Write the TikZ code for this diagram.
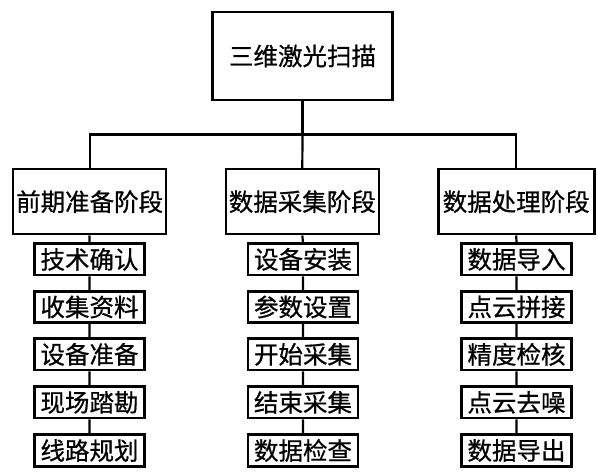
\documentclass[tikz,border=0pt]{standalone}
\usepackage{fontspec}
\newfontfamily\cjk[FakeBold=0.7]{Noto Sans CJK SC}
\begin{document}
\begin{tikzpicture}[x=1pt,y=-1pt,
  box/.style={draw,line width=2.6pt,inner sep=0pt,align=center,font=\cjk\fontsize{24.5}{26}\selectfont},
  topbox/.style={box,minimum width=180pt,minimum height=88pt},
  midbox/.style={box,minimum width=153pt,minimum height=65pt},
  leaf/.style={box,minimum width=110pt,minimum height=31.5pt},
  conn/.style={line width=2.2pt}]
\useasboundingbox (0,0) rectangle (598,473);
\node[topbox] (top) at (302.5,56) {三维激光扫描};
\node[midbox] (m1) at (89.6,201.7) {前期准备阶段};
\node[midbox] (m2) at (302.3,201.7) {数据采集阶段};
\node[midbox,minimum width=156pt] (m3) at (516.2,201.7) {数据处理阶段};
\coordinate (j) at (302.5,134.6);
\draw[conn] (top.south) -- (j);
\draw[conn] (m1.north) |- (j) -| (m3.north);
\draw[conn] (j) -- (m2.north);
% left column
\node[leaf] (a1) at (89.5,259.4) {技术确认};
\node[leaf] (a2) at (89.5,307) {收集资料};
\node[leaf] (a3) at (89.5,354.4) {设备准备};
\node[leaf] (a4) at (89.5,402.4) {现场踏勘};
\node[leaf] (a5) at (89.5,450.5) {线路规划};
% middle column
\node[leaf] (b1) at (303,259.4) {设备安装};
\node[leaf] (b2) at (303,307) {参数设置};
\node[leaf] (b3) at (303,354.4) {开始采集};
\node[leaf] (b4) at (303,402.4) {结束采集};
\node[leaf] (b5) at (303,450.5) {数据检查};
% right column
\node[leaf] (c1) at (516.5,259.4) {数据导入};
\node[leaf] (c2) at (516.5,307) {点云拼接};
\node[leaf] (c3) at (516.5,354.4) {精度检核};
\node[leaf] (c4) at (516.5,402.4) {点云去噪};
\node[leaf] (c5) at (516.5,450.5) {数据导出};
\draw[conn] (m1.south) -- (a1.north) (a1) -- (a2) (a2) -- (a3) (a3) -- (a4) (a4) -- (a5);
\draw[conn] (m2.south) -- (b1.north) (b1) -- (b2) (b2) -- (b3) (b3) -- (b4) (b4) -- (b5);
\draw[conn] (m3.south) -- (c1.north) (c1) -- (c2) (c2) -- (c3) (c3) -- (c4) (c4) -- (c5);
\end{tikzpicture}
\end{document}
